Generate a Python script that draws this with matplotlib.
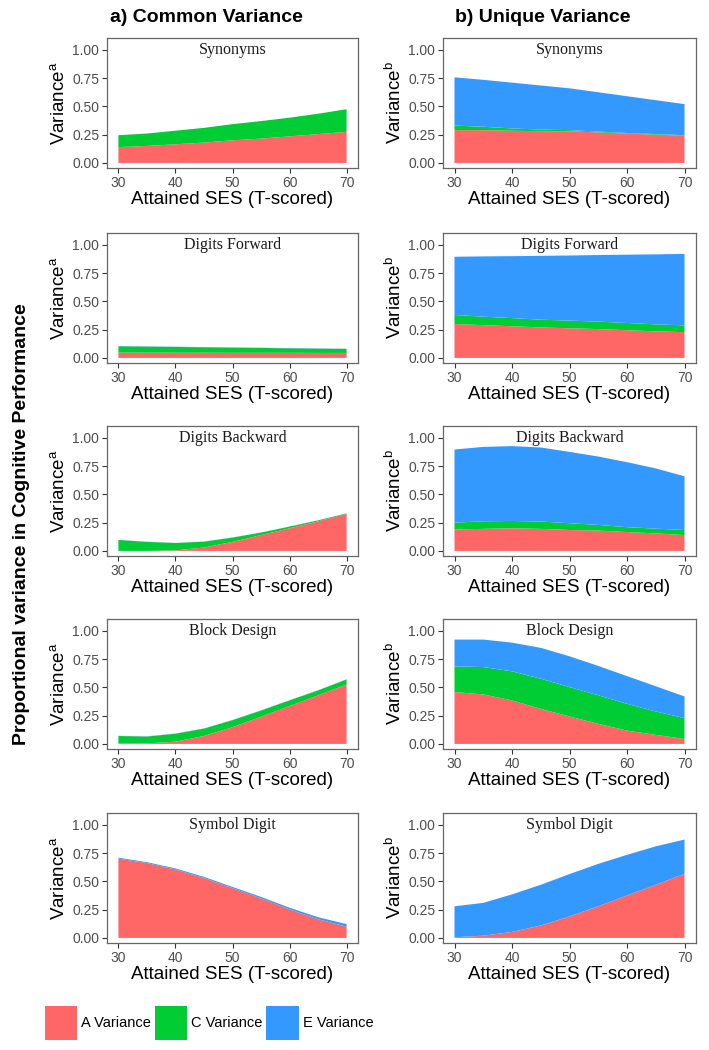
import matplotlib
matplotlib.use("Agg")
import matplotlib.pyplot as plt
from matplotlib.patches import Patch
import numpy as np

plt.rcParams['font.family'] = ['Liberation Sans', 'DejaVu Sans']
plt.rcParams['mathtext.fontset'] = 'custom'
plt.rcParams['mathtext.rm'] = 'Liberation Sans'

# ---------------- data ----------------
ses = [30, 35, 40, 45, 50, 55, 60, 65, 70]
xticks = [30, 40, 50, 60, 70]
yticks = [0.00, 0.25, 0.50, 0.75, 1.00]
tests = ["Synonyms", "Digits Forward", "Digits Backward", "Block Design", "Symbol Digit"]
col_titles = ["a) Common Variance", "b) Unique Variance"]
ylabels = ["Variance$^\\mathregular{a}$", "Variance$^\\mathregular{b}$"]
legend_labels = ["A Variance", "C Variance", "E Variance"]

# a) Common variance
syn_a_A = [0.140, 0.150, 0.165, 0.180, 0.200, 0.215, 0.235, 0.255, 0.275]
syn_a_C = [0.105, 0.110, 0.120, 0.130, 0.143, 0.155, 0.165, 0.180, 0.200]
syn_a_E = [0, 0, 0, 0, 0, 0, 0, 0, 0]

dfw_a_A = [0.047, 0.047, 0.046, 0.046, 0.045, 0.045, 0.045, 0.044, 0.044]
dfw_a_C = [0.056, 0.053, 0.051, 0.048, 0.046, 0.043, 0.040, 0.038, 0.035]
dfw_a_E = [0.002, 0.002, 0.002, 0.002, 0.002, 0.002, 0.002, 0.002, 0.002]

dbw_a_A = [0.000, 0.000, 0.005, 0.030, 0.080, 0.140, 0.200, 0.262, 0.328]
dbw_a_C = [0.097, 0.080, 0.065, 0.052, 0.038, 0.022, 0.015, 0.008, 0.004]
dbw_a_E = [0.001, 0.001, 0.001, 0.001, 0.001, 0.001, 0.001, 0.001, 0.001]

blk_a_A = [0.003, 0.005, 0.020, 0.070, 0.148, 0.240, 0.335, 0.430, 0.525]
blk_a_C = [0.067, 0.060, 0.070, 0.065, 0.062, 0.055, 0.050, 0.043, 0.045]
blk_a_E = [0.002, 0.002, 0.002, 0.002, 0.002, 0.002, 0.002, 0.002, 0.002]

sym_a_A = [0.702, 0.662, 0.606, 0.530, 0.440, 0.350, 0.252, 0.165, 0.100]
sym_a_C = [0, 0, 0, 0, 0, 0, 0, 0, 0]
sym_a_E = [0.008, 0.008, 0.009, 0.010, 0.011, 0.013, 0.015, 0.018, 0.022]

# b) Unique variance
syn_b_A = [0.290, 0.290, 0.285, 0.280, 0.280, 0.270, 0.260, 0.250, 0.240]
syn_b_C = [0.040, 0.030, 0.020, 0.015, 0.010, 0.007, 0.005, 0.005, 0.005]
syn_b_E = [0.427, 0.415, 0.405, 0.390, 0.370, 0.348, 0.325, 0.300, 0.275]

dfw_b_A = [0.300, 0.290, 0.280, 0.270, 0.262, 0.255, 0.245, 0.235, 0.228]
dfw_b_C = [0.080, 0.075, 0.072, 0.068, 0.068, 0.066, 0.064, 0.062, 0.060]
dfw_b_E = [0.515, 0.533, 0.548, 0.565, 0.576, 0.589, 0.604, 0.619, 0.632]

dbw_b_A = [0.190, 0.195, 0.200, 0.195, 0.185, 0.180, 0.167, 0.155, 0.140]
dbw_b_C = [0.060, 0.067, 0.065, 0.065, 0.060, 0.050, 0.043, 0.042, 0.045]
dbw_b_E = [0.647, 0.658, 0.662, 0.655, 0.631, 0.605, 0.575, 0.533, 0.475]

blk_b_A = [0.459, 0.438, 0.385, 0.310, 0.243, 0.178, 0.118, 0.080, 0.044]
blk_b_C = [0.227, 0.242, 0.257, 0.267, 0.260, 0.252, 0.237, 0.207, 0.184]
blk_b_E = [0.237, 0.243, 0.254, 0.273, 0.272, 0.260, 0.245, 0.223, 0.192]

sym_b_A = [0.006, 0.020, 0.053, 0.110, 0.190, 0.280, 0.375, 0.470, 0.568]
sym_b_C = [0, 0, 0, 0, 0, 0, 0, 0, 0]
sym_b_E = [0.274, 0.290, 0.332, 0.360, 0.375, 0.375, 0.360, 0.340, 0.302]

common = [(syn_a_A, syn_a_C, syn_a_E), (dfw_a_A, dfw_a_C, dfw_a_E),
          (dbw_a_A, dbw_a_C, dbw_a_E), (blk_a_A, blk_a_C, blk_a_E),
          (sym_a_A, sym_a_C, sym_a_E)]
unique = [(syn_b_A, syn_b_C, syn_b_E), (dfw_b_A, dfw_b_C, dfw_b_E),
          (dbw_b_A, dbw_b_C, dbw_b_E), (blk_b_A, blk_b_C, blk_b_E),
          (sym_b_A, sym_b_C, sym_b_E)]

colors = ['#FF6666', '#00CC33', '#3399FF']

# ---------------- layout ----------------
W, H = 709, 1050
fig = plt.figure(figsize=(W / 100, H / 100), dpi=100)

col_left = [107, 443]
col_width = [251, 253]
row_top = [38, 233, 426, 619, 813]
box_h = 130

def add_panel(c, r):
    l = col_left[c] / W
    b = 1 - (row_top[r] + box_h) / H
    return fig.add_axes([l, b, col_width[c] / W, box_h / H])

for c, dataset in enumerate([common, unique]):
    for r, (A, C, E) in enumerate(dataset):
        ax = add_panel(c, r)
        ax.stackplot(ses, A, C, E, colors=colors, linewidth=0, antialiased=True)
        ax.set_xlim(28, 72)
        ax.set_ylim(-0.045, 1.105)
        ax.set_xticks(xticks)
        ax.set_yticks(yticks)
        ax.set_yticklabels([f"{v:.2f}" for v in yticks])
        ax.tick_params(axis='both', colors='#333333', labelcolor='#4D4D4D',
                       labelsize=10, length=3.5, width=0.8, direction='out', pad=2)
        for s in ax.spines.values():
            s.set_color('#666666')
            s.set_linewidth(0.9)
        ax.set_xlabel("Attained SES (T-scored)", fontsize=13.5, color='black', labelpad=1)
        ax.set_ylabel(ylabels[c], fontsize=13.5, color='black', labelpad=2)
        ax.text(50, 1.0, tests[r], ha='center', va='center',
                fontsize=11.5, family='Liberation Serif', color='#1a1a1a')

# column titles
fig.text(110 / W, 1 - 18 / H, col_titles[0], ha='left', va='center',
         fontsize=14, fontweight='bold')
fig.text(455 / W, 1 - 18 / H, col_titles[1], ha='left', va='center',
         fontsize=14, fontweight='bold')

# global y label
fig.text(22 / W, 1 - 524 / H, "Proportional variance in Cognitive Performance",
         rotation=90, ha='center', va='center', fontsize=14, fontweight='bold')

# legend
handles = [Patch(facecolor=col, edgecolor='none') for col in colors]
fig.legend(handles, legend_labels, loc='center left',
           bbox_to_anchor=(45 / W, 1 - 1023 / H), ncol=3, frameon=False,
           fontsize=10.5, handlelength=2.2, handleheight=3.2, handletextpad=0.3,
           columnspacing=0.25, borderpad=0, borderaxespad=0)

fig.savefig("out.png", dpi=100)
